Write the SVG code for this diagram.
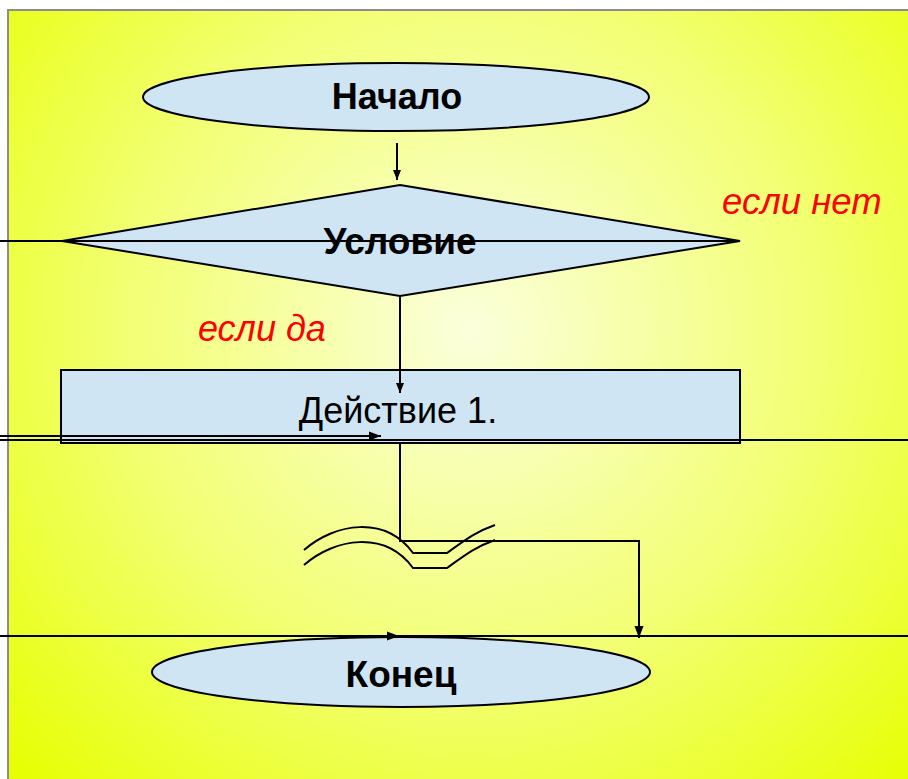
<svg xmlns="http://www.w3.org/2000/svg" width="908" height="779" viewBox="0 0 908 779">
<defs>
<radialGradient id="bg" gradientUnits="userSpaceOnUse" cx="470" cy="330" r="640">
<stop offset="0" stop-color="#fbffdc"/>
<stop offset="0.55" stop-color="#f2ff70"/>
<stop offset="1" stop-color="#e6ff00"/>
</radialGradient>
<marker id="arr" viewBox="0 0 10 10" refX="10" refY="5" markerWidth="10" markerHeight="10" markerUnits="userSpaceOnUse" orient="auto">
<path d="M0,1 L10,5 L0,9 Z" fill="#000"/>
</marker>
<marker id="arrL" viewBox="0 0 12 10" refX="12" refY="5" markerWidth="12" markerHeight="10" markerUnits="userSpaceOnUse" orient="auto">
<path d="M0,0.5 L12,5 L0,9.5 Z" fill="#000"/>
</marker>
</defs>
<style>
.shape{fill:#cfe5f3;stroke:#000;stroke-width:2}
.ln{fill:none;stroke:#000;stroke-width:2}
.t{font-family:"Liberation Sans",Arial,sans-serif;fill:#000;text-anchor:middle}
.b{font-weight:bold}
.red{font-family:"Liberation Sans",Arial,sans-serif;font-style:italic;fill:#ff0000}
</style>
<rect x="0" y="0" width="908" height="779" fill="#ffffff"/>
<rect x="8" y="10" width="902" height="772" fill="url(#bg)" stroke="#8c8c8c" stroke-width="2"/>

<g id="start">
<ellipse class="shape" cx="396" cy="97" rx="253" ry="34"/>
<text class="t b" x="397" y="109" font-size="36">Начало</text>
</g>

<g id="condition">
<polygon class="shape" points="400,185 740,241 400,296 62,241"/>
<text class="t b" x="400" y="254" font-size="37">Условие</text>
</g>

<g id="action">
<rect class="shape" x="61" y="370" width="679" height="73"/>
<text class="t" x="398" y="423" font-size="36">Действие 1.</text>
</g>

<g id="end">
<ellipse class="shape" cx="401" cy="672" rx="249" ry="35"/>
<text class="t b" x="401" y="687" font-size="37">Конец</text>
</g>

<g id="labels">
<text class="red" x="722" y="214" font-size="36.5">если нет</text>
<text class="red" x="198" y="341" font-size="36">если да</text>
</g>

<g id="connectors">
<line class="ln" x1="397" y1="143" x2="397" y2="180" marker-end="url(#arr)"/>
<line class="ln" x1="0" y1="241" x2="740" y2="241"/>
<line class="ln" x1="400" y1="296" x2="400" y2="393" marker-end="url(#arr)"/>
<line class="ln" x1="0" y1="436" x2="381" y2="436" marker-end="url(#arrL)"/>
<line class="ln" x1="0" y1="440" x2="908" y2="440"/>
<polyline class="ln" points="400,443 400,541 639,541 639,638" marker-end="url(#arrL)"/>
<line class="ln" x1="0" y1="636" x2="908" y2="636"/>
<line class="ln" x1="300" y1="636" x2="399" y2="636" marker-end="url(#arrL)"/>
<path class="ln" d="M304,550 C335,523 385,515 413,553 L447,553 C465,540 475,532 495,525"/>
<path class="ln" d="M304,565 C335,538 385,530 413,568 L447,568 C465,555 475,547 495,540"/>
</g>
</svg>
